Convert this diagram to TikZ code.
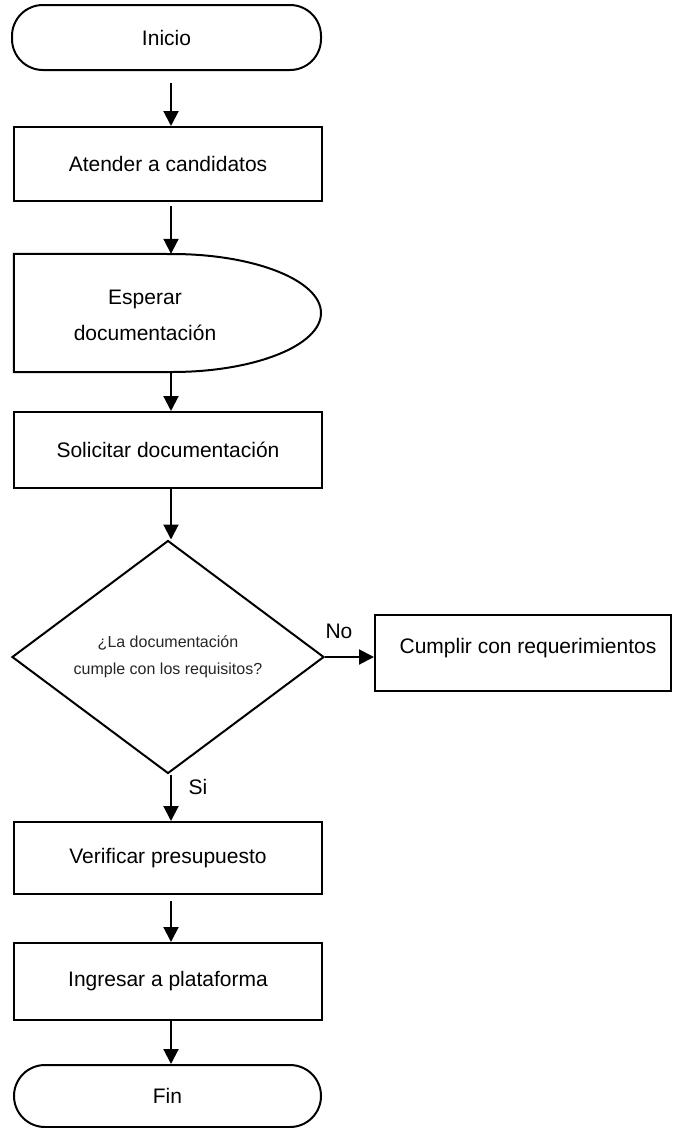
\documentclass[tikz,border=0pt]{standalone}
\usepackage{fontspec}
\setmainfont{Liberation Sans}
\usetikzlibrary{arrows.meta,shapes.geometric,calc}
\begin{document}
\begin{tikzpicture}[x=1pt,y=-1pt,
  lw/.style={line width=2pt},
  txt/.style={font=\fontsize{21}{36}\selectfont},
  box/.style={draw,lw,rectangle,minimum width=308pt,inner sep=0pt,txt},
  term/.style={draw,lw,rectangle,rounded corners=31pt,inner sep=0pt,txt},
  arr/.style={lw,-{Triangle[length=15pt,width=15pt]}},
  lbl/.style={inner sep=0pt,txt}]
\useasboundingbox (0,0) rectangle (673,1128);
\coordinate (ax) at (171,0);
% nodes
\node[term,minimum width=309pt,minimum height=65pt] (inicio) at (166.5,37.5) {Inicio};
\node[box,minimum height=74pt] (atender) at (168,164) {Atender a candidatos};
\node[inner sep=0pt,minimum width=307pt,minimum height=118pt] (esperar) at (167.5,313) {};
\draw[lw] (esperar.north west) -- (172,254)
  arc[start angle=-90,end angle=90,x radius=149,y radius=59]
  -- (esperar.south west) -- cycle;
\node[lbl,align=center] (esperartxt) at (145,315) {Esperar\\documentación};
\node[box,minimum height=76pt] (solicitar) at (168,450) {Solicitar documentación};
\node[draw,lw,diamond,minimum width=312pt,minimum height=233pt,inner sep=0pt,
  align=center,text=black!85,font=\fontsize{16}{27}\selectfont] (dec) at (168,657)
  {¿La documentación\\cumple con los requisitos?};
\node[box,minimum width=296pt,minimum height=76pt] (cumplir) at (523,653) {};
\node[lbl] (cumplirtxt) at (528,648) {Cumplir con requerimientos};
\node[box,minimum height=72pt] (verificar) at (168,858) {Verificar presupuesto};
\node[box,minimum height=77pt] (ingresar) at (168,981.5) {Ingresar a plataforma};
\node[term,minimum width=307pt,minimum height=62pt] (fin) at (167.5,1096) {Fin};
% labels
\node[lbl] (no) at (339,631) {No};
\node[lbl] (si) at (198,787) {Si};
% connectors
\draw[arr,shorten <=12pt] (inicio.south -| ax) -- (atender.north -| ax);
\draw[arr,shorten <=4pt] (atender.south -| ax) -- (esperar.north -| ax);
\draw[arr] (esperar.south -| ax) -- (solicitar.north -| ax);
\draw[arr] (solicitar.south -| ax) -- (dec.north -| ax);
\draw[arr] (dec.east) -- (cumplir.west |- dec.east);
\draw[arr] (dec.south -| ax) -- (verificar.north -| ax);
\draw[arr,shorten <=6pt] (verificar.south -| ax) -- (ingresar.north -| ax);
\draw[arr] (ingresar.south -| ax) -- (fin.north -| ax);
\end{tikzpicture}
\end{document}
